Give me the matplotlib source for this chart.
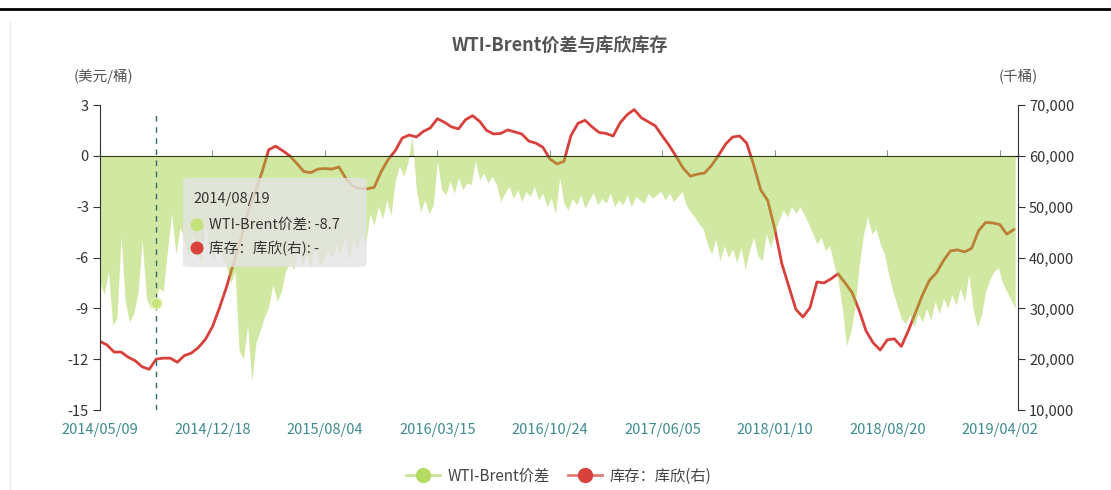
import numpy as np
import matplotlib.pyplot as plt
from matplotlib.lines import Line2D
from matplotlib.patches import FancyBboxPatch
from matplotlib.ticker import FuncFormatter

plt.rcParams['font.family'] = ['Noto Sans CJK SC', 'DejaVu Sans']
plt.rcParams['axes.unicode_minus'] = False

# WTI-Brent spread (USD/bbl), read every 6 trading days from 2014/05/09
spread = [
    -7.5, -8.2, -6.8, -10.0, -9.6, -4.8, -8.6, -9.8, -9.3, -8.1,
    -5.0, -8.4, -9.0, -8.6, -7.8, -8.0, -5.6, -3.4, -5.8, -4.2,
    -5.0, -6.0, -4.5, -5.8, -6.3, -4.0, -5.5, -6.2, -5.0, -6.0,
    -6.5, -7.5, -6.8, -11.5, -12.0, -10.0, -13.3, -11.0, -10.3, -9.5,
    -8.9, -7.6, -8.6, -8.0, -6.8, -6.3, -6.7, -5.5, -6.4, -5.8,
    -6.6, -5.2, -6.5, -6.2, -5.5, -6.0, -5.3, -5.8, -4.8, -6.2,
    -5.0, -5.6, -4.6, -5.2, -3.4, -4.1, -3.0, -3.7, -2.6, -3.5,
    -1.5, -0.6, -1.2, -0.4, 1.2, -2.0, -3.3, -2.6, -3.4, -2.9,
    -0.3, -2.0, -2.3, -1.5, -2.2, -1.3, -2.0, -1.6, -1.7, -0.3,
    -1.4, -1.0, -1.6, -1.2, -1.7, -2.7, -2.2, -1.8, -2.5, -2.0,
    -2.7, -2.1, -2.4, -1.8, -2.6, -2.2, -3.0, -2.5, -3.4, -1.3,
    -2.8, -3.2, -2.5, -2.9, -2.3, -3.1, -2.6, -2.2, -2.9, -2.5,
    -2.8, -2.2, -3.0, -2.6, -2.9, -2.3, -3.0, -2.4, -2.6, -2.8,
    -2.2, -2.5, -2.3, -2.1, -2.6, -2.2, -2.7, -2.4, -2.1, -2.9,
    -3.3, -3.6, -4.0, -4.3, -5.2, -5.8, -4.9, -6.2, -5.3, -6.0,
    -5.5, -6.3, -5.4, -6.7, -5.6, -4.8, -5.9, -6.2, -4.6, -5.4,
    -4.5, -3.8, -3.2, -3.6, -3.0, -3.4, -3.0, -3.5, -4.0, -4.6,
    -5.2, -4.8, -5.6, -5.3, -6.4, -7.3, -9.0, -11.2, -10.4, -9.0,
    -6.5, -4.7, -3.6, -4.6, -4.3, -5.2, -5.8, -7.0, -8.0, -8.8,
    -9.6, -9.9, -9.4, -10.1, -9.3, -9.8, -9.0, -9.7, -8.6, -9.3,
    -8.4, -9.0, -8.2, -8.8, -7.8, -8.6, -7.0, -9.0, -10.1, -9.4,
    -8.0, -7.3, -6.8, -6.6, -7.5, -8.0, -8.5, -9.0,
]

# Cushing inventory (thousand bbl), read every 10 trading days
inventory = [
    23500, 22800, 21400, 21400, 20400, 19700, 18500, 18000, 20000, 20200,
    20200, 19400, 20700, 21200, 22300, 23900, 26400, 30100, 34200, 38900,
    43500, 48700, 52600, 56600, 61200, 61900, 61000, 60000, 58500, 56900,
    56700, 57400, 57500, 57400, 57800, 55500, 54000, 53600, 53500, 53800,
    56900, 59300, 61000, 63500, 64100, 63700, 64800, 65500, 67300, 66600,
    65700, 65300, 67100, 67900, 66800, 65000, 64300, 64400, 65100, 64700,
    64300, 62900, 62500, 61700, 59400, 58400, 58900, 64000, 66400, 67000,
    65700, 64600, 64400, 63900, 66500, 68100, 69100, 67500, 66700, 65900,
    63900, 62000, 59800, 57500, 56000, 56400, 56600, 58100, 60100, 62300,
    63700, 63900, 62500, 58200, 53300, 51200, 45600, 38800, 34300, 29800,
    28300, 30100, 35200, 35000, 35800, 36800, 35000, 33100, 29600, 25500,
    23200, 21800, 23800, 24000, 22500, 25600, 29100, 32600, 35500, 37000,
    39400, 41300, 41500, 41100, 41800, 45300, 46900, 46800, 46500, 44600,
    45500,
]

date_labels = ['2014/05/09', '2014/12/18', '2015/08/04', '2016/03/15', '2016/10/24',
               '2017/06/05', '2018/01/10', '2018/08/20', '2019/04/02']

hover_date = '2014/08/19'
hover_idx = 80
hover_value = -8.7

spread_x = np.arange(len(spread)) * 6
inv_x = np.arange(len(inventory)) * 10
label_x = np.arange(len(date_labels)) * 160

W, H = 1111, 490
fig = plt.figure(figsize=(W / 100, H / 100), dpi=100)
ax = fig.add_axes([100 / W, 1 - 410 / H, 918 / W, 305 / H])
ax2 = ax.twinx()
ax.set_zorder(ax2.get_zorder() + 1)
ax.patch.set_visible(False)

# red line sits under the translucent green area
ax2.plot(inv_x, inventory, color='#d8403c', lw=2)
ax.fill_between(spread_x, 0, spread, color='#98cc30', alpha=0.45, lw=0)

ax.set_xlim(0, 1306)
ax.set_ylim(-15, 3)
ax.set_yticks(range(-15, 4, 3))
ax2.set_ylim(10000, 70000)
ax2.set_yticks(range(10000, 70001, 10000))
ax2.yaxis.set_major_formatter(FuncFormatter(lambda v, p: f'{int(v):,}'))

for s in ['top', 'right', 'bottom']:
    ax.spines[s].set_visible(False)
for s in ['top', 'left', 'bottom']:
    ax2.spines[s].set_visible(False)
ax.spines['left'].set_color('#333333')
ax2.spines['right'].set_color('#333333')

ax.set_xticks(label_x)
ax.set_xticklabels(date_labels)
ax.tick_params(axis='x', length=0, pad=9, labelsize=10.5, labelcolor='#3d8a8e')
ax.tick_params(axis='y', length=5, color='#333333', labelcolor='#333333', labelsize=10.5, pad=3)
ax2.tick_params(axis='y', length=5, color='#333333', labelcolor='#333333', labelsize=10.5, pad=3)

# x axis line sits on zero
zero = ax.secondary_xaxis(15 / 18)
zero.set_xticks(label_x)
zero.set_xticklabels([])
zero.tick_params(length=4, color='#8a9a82', labelbottom=False, labeltop=False)
zero.spines['bottom'].set_color('#8a9a82')

# hover state
ax.axvline(hover_idx, 0, 0.984, color='#2f6b6b', lw=1, ls=(0, (4, 4)), zorder=5)
ax.scatter([hover_idx], [hover_value], s=60, color='#c6e67c', edgecolors='#e2f3b4', zorder=6)

ax.add_patch(FancyBboxPatch((0.0904, 0.469), 0.2, 0.292, boxstyle='round,pad=0,rounding_size=0.008',
                            transform=ax.transAxes, facecolor='#e4e4e4', alpha=0.8,
                            edgecolor='none', zorder=10))
ax.text(0.1013, 0.692, hover_date, transform=ax.transAxes, fontsize=10.5, color='#333333',
        va='center', zorder=11)
ax.scatter([0.1057, 0.1057], [0.607, 0.531], s=70, color=['#c3e27c', '#d9413b'],
           transform=ax.transAxes, zorder=11, clip_on=False)
ax.text(0.1190, 0.607, f'WTI-Brent价差: {hover_value}', transform=ax.transAxes, fontsize=10.5,
        color='#333333', va='center', zorder=11)
ax.text(0.1190, 0.531, '库存：库欣(右): -', transform=ax.transAxes, fontsize=10.5,
        color='#333333', va='center', zorder=11)

fig.text(0.504, 1 - 45 / H, 'WTI-Brent价差与库欣库存', ha='center', va='center', fontsize=13,
         fontweight='bold', color='#555555')
fig.text(103 / W, 1 - 76 / H, '(美元/桶)', ha='center', va='center', fontsize=10.5, color='#555555')
fig.text(1018 / W, 1 - 76 / H, '(千桶)', ha='center', va='center', fontsize=10.5, color='#555555')

handles = [
    Line2D([], [], color='#c9e59a', lw=2, marker='o', markersize=10,
           markerfacecolor='#b4dc63', markeredgecolor='#b4dc63'),
    Line2D([], [], color='#e07b76', lw=2, marker='o', markersize=10,
           markerfacecolor='#d9413b', markeredgecolor='#d9413b'),
]
fig.legend(handles, ['WTI-Brent价差', '库存：库欣(右)'], loc='center',
           bbox_to_anchor=(0.503, 1 - 476 / H), ncol=2, frameon=False, fontsize=11,
           handlelength=2.2, columnspacing=1.2, handletextpad=0.5, labelcolor='#444444')

# screenshot frame
fig.add_artist(Line2D([0, 1], [1 - 9 / H] * 2, transform=fig.transFigure, color='black', lw=2))
fig.add_artist(Line2D([10 / W] * 2, [0, 1 - 22 / H], transform=fig.transFigure, color='#eaeaea', lw=1))

fig.savefig('out.png', dpi=100)
